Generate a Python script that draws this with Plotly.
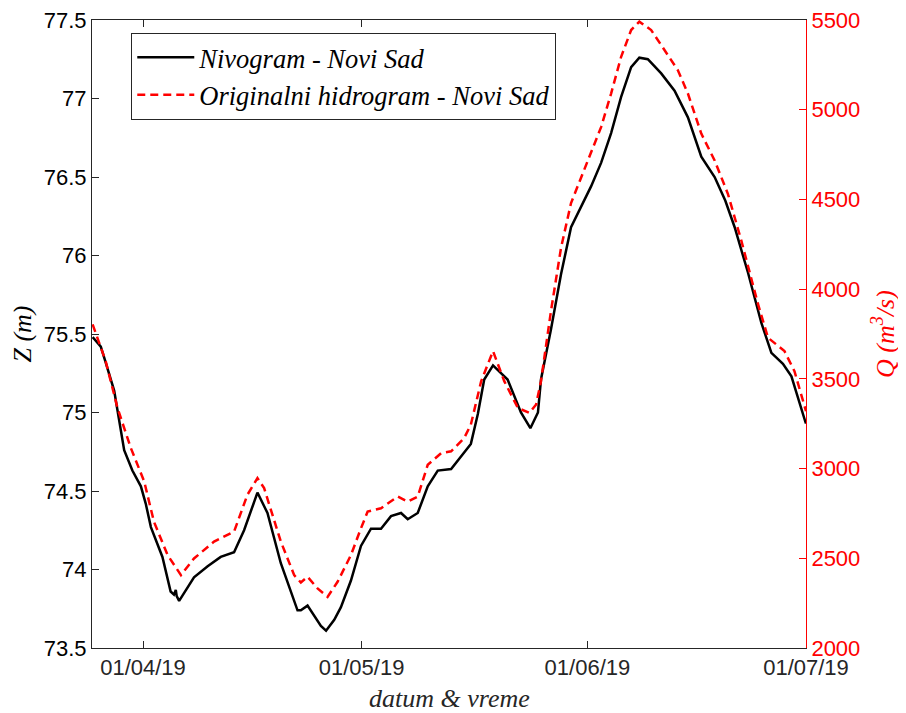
import plotly.graph_objects as go

# Water level (Nivogram) - Novi Sad
z_dates = [
    "2019-03-25 02:00", "2019-03-26 05:00", "2019-03-26 21:00", "2019-03-28 01:00",
    "2019-03-29 10:00", "2019-03-30 13:00", "2019-03-31 17:00", "2019-04-01 09:00",
    "2019-04-02 02:00", "2019-04-03 16:00", "2019-04-04 19:00", "2019-04-05 06:00",
    "2019-04-05 12:00", "2019-04-05 15:00", "2019-04-05 23:00", "2019-04-08 00:00",
    "2019-04-09 21:00", "2019-04-11 16:00", "2019-04-13 12:00", "2019-04-14 21:00",
    "2019-04-16 17:00", "2019-04-18 02:00", "2019-04-19 22:00", "2019-04-22 05:00",
    "2019-04-22 16:00", "2019-04-23 14:00", "2019-04-25 10:00", "2019-04-26 03:00",
    "2019-04-27 06:00", "2019-04-28 04:00", "2019-04-29 13:00", "2019-04-30 22:00",
    "2019-05-02 07:00", "2019-05-03 16:00", "2019-05-05 01:00", "2019-05-06 10:00",
    "2019-05-07 08:00", "2019-05-08 17:00", "2019-05-10 02:00", "2019-05-11 11:00",
    "2019-05-13 07:00", "2019-05-14 16:00", "2019-05-16 00:00", "2019-05-16 23:00",
    "2019-05-17 20:00", "2019-05-19 01:00", "2019-05-21 01:00", "2019-05-22 21:00",
    "2019-05-24 04:00", "2019-05-25 05:00", "2019-05-25 15:00", "2019-05-27 00:00",
    "2019-05-28 09:00", "2019-05-29 18:00", "2019-05-31 03:00", "2019-06-01 12:00",
    "2019-06-02 21:00", "2019-06-04 06:00", "2019-06-05 15:00", "2019-06-07 00:00",
    "2019-06-08 03:00", "2019-06-09 07:00", "2019-06-11 03:00", "2019-06-12 23:00",
    "2019-06-14 19:00", "2019-06-16 15:00", "2019-06-18 11:00", "2019-06-19 22:00",
    "2019-06-21 05:00", "2019-06-23 01:00", "2019-06-24 21:00", "2019-06-26 06:00",
    "2019-06-27 20:00", "2019-06-29 00:00", "2019-06-30 22:00", "2019-07-01 00:00",
]
z_values = [
    75.48, 75.42, 75.32, 75.14,
    74.76, 74.63, 74.53, 74.42,
    74.27, 74.08, 73.86, 73.84,
    73.87, 73.83, 73.80, 73.95,
    74.02, 74.08, 74.11, 74.25,
    74.49, 74.36, 74.04, 73.74,
    73.74, 73.77, 73.64, 73.61,
    73.68, 73.76, 73.93, 74.15,
    74.26, 74.26, 74.34, 74.36,
    74.32, 74.36, 74.53, 74.63,
    74.64, 74.72, 74.80, 74.99,
    75.21, 75.30, 75.21, 75.00,
    74.90, 75.00, 75.21, 75.53,
    75.88, 76.18, 76.31, 76.44,
    76.59, 76.78, 77.01, 77.20,
    77.26, 77.25, 77.16, 77.05,
    76.88, 76.63, 76.50, 76.35,
    76.18, 75.89, 75.57, 75.38,
    75.31, 75.23, 74.94, 74.93,
]

# Discharge (Originalni hidrogram) - Novi Sad
q_dates = [
    "2019-03-25 02:00", "2019-03-26 21:00", "2019-03-28 12:00", "2019-03-30 08:00",
    "2019-04-01 04:00", "2019-04-02 12:00", "2019-04-04 09:00", "2019-04-06 05:00",
    "2019-04-08 00:00", "2019-04-10 18:00", "2019-04-13 12:00", "2019-04-15 08:00",
    "2019-04-16 17:00", "2019-04-17 15:00", "2019-04-19 22:00", "2019-04-21 18:00",
    "2019-04-22 16:00", "2019-04-23 14:00", "2019-04-24 23:00", "2019-04-26 08:00",
    "2019-04-27 17:00", "2019-04-29 13:00", "2019-04-30 22:00", "2019-05-01 20:00",
    "2019-05-03 16:00", "2019-05-05 23:00", "2019-05-07 08:00", "2019-05-08 17:00",
    "2019-05-10 02:00", "2019-05-11 22:00", "2019-05-13 07:00", "2019-05-15 02:00",
    "2019-05-16 00:00", "2019-05-17 10:00", "2019-05-19 01:00", "2019-05-20 14:00",
    "2019-05-22 11:00", "2019-05-24 01:00", "2019-05-24 23:00", "2019-05-25 15:00",
    "2019-05-27 00:00", "2019-05-28 09:00", "2019-05-29 18:00", "2019-05-31 03:00",
    "2019-06-01 12:00", "2019-06-02 21:00", "2019-06-04 06:00", "2019-06-05 15:00",
    "2019-06-07 00:00", "2019-06-08 03:00", "2019-06-09 18:00", "2019-06-11 14:00",
    "2019-06-13 10:00", "2019-06-14 19:00", "2019-06-16 15:00", "2019-06-18 11:00",
    "2019-06-20 07:00", "2019-06-22 03:00", "2019-06-24 10:00", "2019-06-25 19:00",
    "2019-06-28 01:00", "2019-06-29 10:00", "2019-06-30 22:00", "2019-07-01 00:00",
]
q_values = [
    3804, 3599, 3338, 3114,
    2928, 2704, 2518, 2406,
    2499, 2593, 2649, 2854,
    2947, 2891, 2593, 2406,
    2365, 2397, 2332, 2285,
    2369, 2518, 2667, 2760,
    2779, 2844, 2816, 2844,
    3021, 3086, 3096, 3170,
    3245, 3487, 3655, 3487,
    3338, 3310, 3357, 3487,
    3879, 4230, 4480, 4620,
    4755, 4903, 5090, 5295,
    5444, 5491, 5444, 5332,
    5220, 5090, 4867, 4717,
    4530, 4270, 3916, 3729,
    3655, 3543, 3338, 3320,
]

z_ticks = [73.5, 74, 74.5, 75, 75.5, 76, 76.5, 77, 77.5]
z_ticktext = ["73.5", "74", "74.5", "75", "75.5", "76", "76.5", "77", "77.5"]
q_ticks = [2000, 2500, 3000, 3500, 4000, 4500, 5000, 5500]
x_ticks = ["2019-04-01", "2019-05-01", "2019-06-01", "2019-07-01"]
x_ticktext = ["01/04/19", "01/05/19", "01/06/19", "01/07/19"]

AX = "#262626"
RED = "#ff0000"
SANS = "Liberation Sans, Arial, sans-serif"
SERIF = "Liberation Serif, Times New Roman, serif"

fig = go.Figure()
fig.add_trace(go.Scatter(
    x=z_dates, y=z_values, mode="lines", name="<i>Nivogram - Novi Sad</i>",
    line=dict(color="black", width=2.5), yaxis="y",
))
fig.add_trace(go.Scatter(
    x=q_dates, y=q_values, mode="lines", name="<i>Originalni hidrogram - Novi Sad</i>",
    line=dict(color=RED, width=2.5, dash="8px,5px"), yaxis="y2",
))

fig.update_layout(
    width=898, height=705,
    margin=dict(l=84, r=100, t=12, b=65, autoexpand=False),
    paper_bgcolor="white", plot_bgcolor="white",
    showlegend=True,
    legend=dict(
        x=0.055, y=0.98, xanchor="left", yanchor="top",
        bgcolor="white", bordercolor="#262626", borderwidth=1,
        font=dict(family=SERIF, size=26.5, color="black"),
        tracegroupgap=0, itemwidth=57,
    ),
    xaxis=dict(
        type="date", range=["2019-03-25 00:00", "2019-07-01 00:00"],
        tickvals=x_ticks, ticktext=x_ticktext, automargin=False,
        ticklabeloverflow="allow",
        ticks="inside", ticklen=7, tickcolor=AX, tickwidth=1,
        showline=True, linecolor=AX, linewidth=1, mirror="ticks",
        showgrid=False, zeroline=False,
        tickfont=dict(family=SANS, size=22, color=AX),
    ),
    yaxis=dict(
        range=[73.5, 77.5], tickvals=z_ticks, ticktext=z_ticktext, automargin=False,
        ticklabeloverflow="allow",
        ticks="inside", ticklen=7, tickcolor=AX, tickwidth=1,
        showline=True, linecolor=AX, linewidth=1,
        showgrid=False, zeroline=False,
        tickfont=dict(family=SANS, size=22, color="black"),
        title=dict(text="<i>Z (m)</i>", font=dict(family=SERIF, size=26, color="black"), standoff=11),
    ),
    yaxis2=dict(
        range=[2000, 5500], tickvals=q_ticks, automargin=False,
        ticklabeloverflow="allow",
        overlaying="y", side="right",
        ticks="inside", ticklen=7, tickcolor=RED, tickwidth=1,
        showline=True, linecolor=RED, linewidth=1,
        showgrid=False, zeroline=False,
        tickfont=dict(family=SANS, size=22, color=RED),
        title=dict(text="<i>Q (m<sup>3</sup>/s)</i>", font=dict(family=SERIF, size=26, color=RED), standoff=16),
    ),
    annotations=[dict(
        text="<i>datum & vreme</i>", xref="paper", yref="paper",
        x=0.5, y=-0.08, xanchor="center", yanchor="middle", showarrow=False,
        font=dict(family=SERIF, size=26, color=AX),
    )],
)

fig.write_html("out.html")
